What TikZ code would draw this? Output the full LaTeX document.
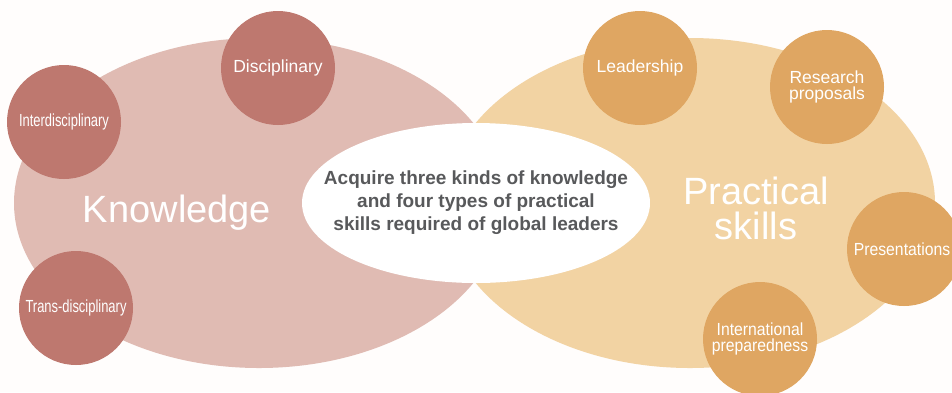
\documentclass[tikz,border=0pt]{standalone}
\usepackage{fontspec}
\setmainfont{Liberation Sans}
\newfontfamily\narrowfont[FakeStretch=0.74]{Liberation Sans}
\newfontfamily\halfnarrowfont[FakeStretch=0.9]{Liberation Sans}
\usetikzlibrary{shapes.geometric}

\definecolor{pageBg}{HTML}{FFFDFC}
\definecolor{roseLight}{HTML}{E0BBB3}
\definecolor{roseDark}{HTML}{BE786F}
\definecolor{sandLight}{HTML}{F2D3A3}
\definecolor{sandDark}{HTML}{DFA662}
\definecolor{goalText}{HTML}{58595B}

\tikzset{
  area/.style={ellipse, inner sep=0pt, minimum width=490pt, minimum height=330pt},
  bubble/.style={circle, inner sep=0pt, minimum size=114pt, text=white, align=center,
    font=\fontsize{17.5}{16}\selectfont},
  knowbubble/.style={bubble, fill=roseDark},
  skillbubble/.style={bubble, fill=sandDark},
  bigword/.style={text=white, align=center, font=\fontsize{38}{35}\selectfont}
}

\begin{document}
\begin{tikzpicture}[x=1pt,y=-1pt]
      \useasboundingbox (0,0) rectangle (952,392);
      \clip (0,0) rectangle (952,392);
      \fill[pageBg] (0,0) rectangle (952,392);

      % the two fields and the goal in the middle
      \node[area, fill=roseLight] (knowArea) at (259,203) {};
      \node[area, fill=sandLight] (skillArea) at (690,203) {};
      \node[ellipse, fill=white, inner sep=0pt, minimum width=348pt, minimum height=160pt] (goal) at (476,203) {};
      \node[text=goalText, align=center, font=\fontsize{19}{23}\selectfont\bfseries] (goalText) at (476,203)
        {Acquire three kinds of knowledge\\and four types of practical\\skills required of global leaders};

      \node[bigword, anchor=base] (knowTitle) at (177,222) {Knowledge};
      \node[bigword] (skillTitle) at (756,208) {Practical\\skills};

      % knowledge
      \node[knowbubble] (disc) at (278,68) {Disciplinary};
      \node[knowbubble, font=\fontsize{17.5}{16}\narrowfont] (inter) at (64,122) {Interdisciplinary};
      \node[knowbubble, font=\fontsize{17.5}{16}\narrowfont] (trans) at (76,308) {Trans-disciplinary};

      % skills
      \node[skillbubble] (lead) at (640,68) {Leadership};
      \node[skillbubble] (research) at (827,87) {Research\\proposals};
      \node[skillbubble, font=\fontsize{17.5}{16}\halfnarrowfont] (present) at (904,249) {};
      \node[text=white, inner sep=0pt, font=\fontsize{17.5}{16}\halfnarrowfont] (presentText) at (902,249) {Presentations};
      \node[skillbubble, font=\fontsize{17.5}{16}\halfnarrowfont] (intl) at (760,339) {International\\preparedness};
\end{tikzpicture}
\end{document}
